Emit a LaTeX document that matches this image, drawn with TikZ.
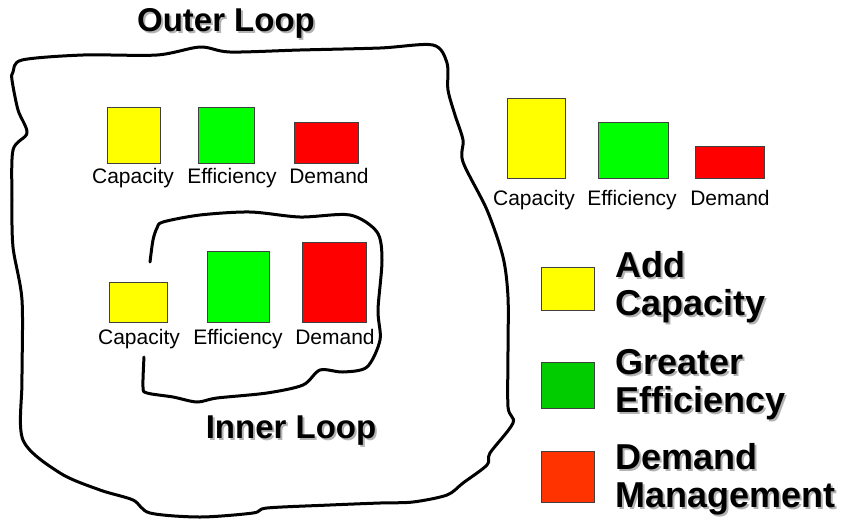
\documentclass[tikz,border=0pt]{standalone}
\usepackage{fontspec}
\setmainfont{Liberation Sans}

\definecolor{capyellow}{HTML}{FFFF00}
\definecolor{effgreen}{HTML}{00FF00}
\definecolor{demred}{HTML}{FF0000}
\definecolor{keygreen}{HTML}{00CC00}
\definecolor{keyred}{HTML}{FF3300}

\tikzset{
  bar/.style={draw=black!75, line width=0.8pt, anchor=south, inner sep=0pt},
  lbl/.style={inner sep=0pt, anchor=base, font=\fontsize{21}{23}\selectfont},
  big/.style={inner sep=0pt, font=\fontsize{33}{36}\selectfont\bfseries},
  key/.style={inner sep=0pt, anchor=west, align=left, font=\fontsize{36}{38}\selectfont\bfseries},
  loopline/.style={line width=3pt, line cap=round, line join=round},
}
% bold text with a grey drop shadow
\newcommand{\shadowtext}[4]{%
  \node[#1, text=black!30] at ([shift={(2,2)}]#3) {#4};
  \node[#1] (#2) at (#3) {#4};
}

\begin{document}
\begin{tikzpicture}[x=1pt, y=-1pt]
  \useasboundingbox (0,0) rectangle (847,523);

  % outer loop
  \draw[loopline] plot[smooth cycle, tension=0.5] coordinates {
    (22,60) (83,55) (157,55) (200,47) (230,52) (300,50) (380,48) (433,45)
    (447,63) (448,90) (455,115) (463,140) (463,162) (487,210) (503,257)
    (508,297) (508,350) (508,407) (513,423) (490,453) (487,465) (463,483)
    (447,495) (413,502) (380,503) (330,505) (267,508) (253,513) (200,517)
    (150,513) (133,500) (100,490) (60,473) (23,440) (22,380) (22,300)
    (13,247) (12,200) (13,150) (27,133) (18,110) (12,80) (13,72)};
  % inner loop
  \draw[loopline] plot[smooth, tension=0.5] coordinates {
    (150,262) (153,240) (157,228) (163,222) (200,215) (250,212) (300,217)
    (350,215) (377,232) (382,260) (378,310) (380,340) (367,367) (343,372)
    (320,370) (303,385) (267,393) (217,398) (197,402) (173,397) (147,393)
    (143,387) (144,357)};

  \shadowtext{big}{outer}{226,23}{Outer Loop}
  \shadowtext{big}{inner}{291,431}{Inner Loop}

  % outer loop bars
  \node[bar, fill=capyellow, minimum width=53pt, minimum height=56pt] (ocap) at (133.5,164) {};
  \node[bar, fill=effgreen, minimum width=56pt, minimum height=56pt] (oeff) at (226,164) {};
  \node[bar, fill=demred, minimum width=64pt, minimum height=41pt] (odem) at (326,164) {};
  \node[lbl] (ocapl) at (133,183) {Capacity};
  \node[lbl] (oeffl) at (232,183) {Efficiency};
  \node[lbl] (odeml) at (329,183) {Demand};

  % inner loop bars
  \node[bar, fill=capyellow, minimum width=58pt, minimum height=40pt] (icap) at (138,323) {};
  \node[bar, fill=effgreen, minimum width=62pt, minimum height=71pt] (ieff) at (238,323) {};
  \node[bar, fill=demred, minimum width=64pt, minimum height=80pt] (idem) at (334,323) {};
  \node[lbl] (icapl) at (139,344) {Capacity};
  \node[lbl] (ieffl) at (238,344) {Efficiency};
  \node[lbl] (ideml) at (335,344) {Demand};

  % bars outside the loops
  \node[bar, fill=capyellow, minimum width=58pt, minimum height=80pt] (rcap) at (536,179) {};
  \node[bar, fill=effgreen, minimum width=70pt, minimum height=56pt] (reff) at (633,179) {};
  \node[bar, fill=demred, minimum width=69pt, minimum height=32pt] (rdem) at (729.5,179) {};
  \node[lbl] (rcapl) at (534,205) {Capacity};
  \node[lbl] (reffl) at (632,205) {Efficiency};
  \node[lbl] (rdeml) at (730,205) {Demand};

  % key
  \node[bar, fill=capyellow, minimum width=53pt, minimum height=43pt] (kcap) at (567.5,311) {};
  \node[bar, fill=keygreen, minimum width=53pt, minimum height=46pt] (keff) at (567.5,409) {};
  \node[bar, fill=keyred, minimum width=53pt, minimum height=51pt] (kdem) at (567.5,503) {};
  \shadowtext{key}{kcapt}{615,287}{Add\\Capacity}
  \shadowtext{key}{kefft}{615,385}{Greater\\Efficiency}
  \shadowtext{key}{kdemt}{615,479}{Demand\\Management}
\end{tikzpicture}
\end{document}
